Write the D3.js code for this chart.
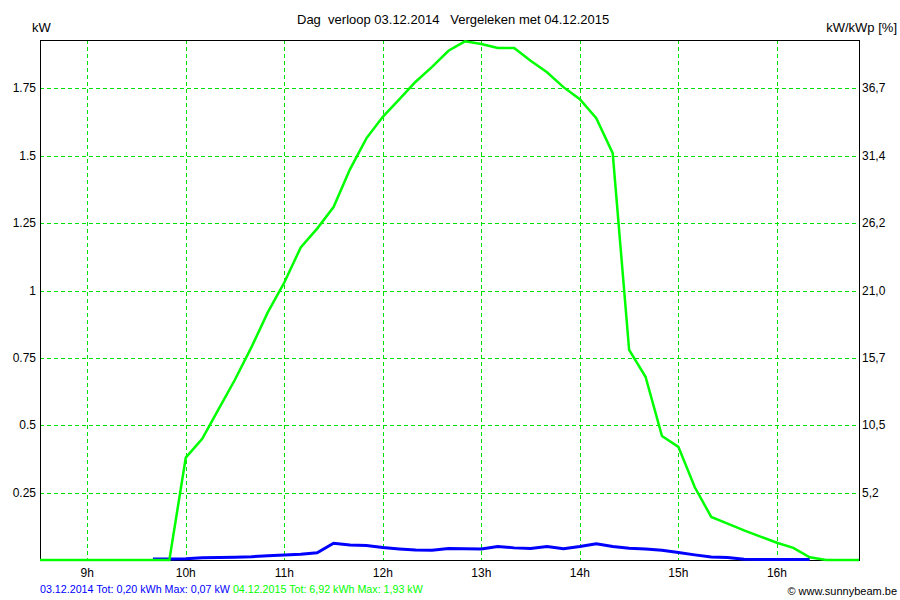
<!DOCTYPE html>
<html>
<head>
<meta charset="utf-8">
<script src="https://cdn.jsdelivr.net/npm/d3@7"></script>
<style>
  body { margin: 0; background: #fff; }
  text { font-family: "Liberation Sans", Arial, sans-serif; font-size: 12px; fill: #000; }
</style>
</head>
<body>
<div id="chart"></div>
<script>
// 10-minute samples, 8:30 .. 16:50
var times = ["8:30","8:40","8:50","9:00","9:10","9:20","9:30","9:40","9:50",
  "10:00","10:10","10:20","10:30","10:40","10:50","11:00","11:10","11:20","11:30","11:40","11:50",
  "12:00","12:10","12:20","12:30","12:40","12:50","13:00","13:10","13:20","13:30","13:40","13:50",
  "14:00","14:10","14:20","14:30","14:40","14:50","15:00","15:10","15:20","15:30","15:40","15:50",
  "16:00","16:10","16:20","16:30","16:40","16:50"];

// 04.12.2015 (green), kW
var green = [0,0,0,0,0,0,0,0,0,
  0.38,0.45,0.56,0.67,0.79,0.92,1.03,1.16,1.23,1.31,1.45,1.565,
  1.645,1.71,1.775,1.83,1.89,1.925,1.915,1.90,1.90,1.853,1.81,1.755,
  1.71,1.64,1.51,0.78,0.68,0.46,0.42,0.27,0.16,0.135,0.11,0.087,
  0.064,0.045,0.01,0,0,0];

// 03.12.2014 (blue), kW
var blue = [null,null,null,null,null,null,null,0.004,0.004,
  0.005,0.008,0.009,0.010,0.012,0.016,0.019,0.021,0.027,0.062,0.056,0.054,
  0.046,0.041,0.037,0.036,0.043,0.042,0.041,0.050,0.045,0.043,0.050,0.042,
  0.050,0.060,0.050,0.044,0.041,0.036,0.028,0.019,0.011,0.009,0.003,0.002,
  0.002,0.002,0.002,null,null,null];

var hourTicks = [9,10,11,12,13,14,15,16];
var kwTicks = [0.25,0.5,0.75,1,1.25,1.5,1.75];
var pctLabels = ["5,2","10,5","15,7","21,0","26,2","31,4","36,7"];

var W = 900, H = 600;
var plotL = 40, plotR = 859, plotT = 40, plotB = 560;

function toHours(s) {
  var p = s.split(":");
  return +p[0] + p[1] / 60;
}

var svg = d3.select("#chart")
  .append("svg")
    .attr("width", W)
    .attr("height", H);

var x = d3.scaleLinear()
  .domain([8.5, 16 + 50 / 60])
  .range([38, plotR]);

var y = d3.scaleLinear()
  .domain([0, 1.93])
  .range([plotB, plotT]);

// grid
svg.append("g")
  .selectAll("line")
  .data(hourTicks)
  .enter()
    .append("line")
    .attr("x1", d => Math.round(x(d)) + 0.5)
    .attr("x2", d => Math.round(x(d)) + 0.5)
    .attr("y1", plotT)
    .attr("y2", plotB)
    .attr("stroke", "#00e000")
    .attr("stroke-dasharray", "4,3");

svg.append("g")
  .selectAll("line")
  .data(kwTicks)
  .enter()
    .append("line")
    .attr("x1", plotL)
    .attr("x2", plotR)
    .attr("y1", d => Math.round(y(d)) + 0.5)
    .attr("y2", d => Math.round(y(d)) + 0.5)
    .attr("stroke", "#00e000")
    .attr("stroke-dasharray", "4,3");

// left axis labels
svg.append("g")
  .selectAll("text")
  .data(kwTicks)
  .enter()
    .append("text")
    .attr("x", 36)
    .attr("y", d => y(d) + 4)
    .style("text-anchor", "end")
    .text(d => String(d));

// right axis labels
svg.append("g")
  .selectAll("text")
  .data(kwTicks)
  .enter()
    .append("text")
    .attr("x", 862)
    .attr("y", d => y(d) + 4)
    .text((d, i) => pctLabels[i]);

// x labels
svg.append("g")
  .selectAll("text")
  .data(hourTicks)
  .enter()
    .append("text")
    .attr("x", d => x(d))
    .attr("y", 577)
    .style("text-anchor", "middle")
    .text(d => d + "h");

// clip for the lines
svg.append("clipPath")
  .attr("id", "plot-clip")
  .append("rect")
    .attr("x", plotL)
    .attr("y", plotT - 2)
    .attr("width", plotR - plotL)
    .attr("height", plotB - plotT + 4);

var line = d3.line()
  .defined(d => d.v !== null)
  .x(d => x(d.t))
  .y(d => y(d.v));

var blueData = times.map((t, i) => ({ t: toHours(t), v: blue[i] }));
var greenData = times.map((t, i) => ({ t: toHours(t), v: green[i] }));

// frame
svg.append("rect")
  .attr("x", plotL + 0.5)
  .attr("y", plotT + 0.5)
  .attr("width", plotR - plotL)
  .attr("height", plotB - plotT)
  .attr("fill", "none")
  .attr("stroke", "#000");

svg.append("path")
  .datum(blueData)
  .attr("clip-path", "url(#plot-clip)")
  .attr("fill", "none")
  .attr("stroke", "#0000ff")
  .attr("stroke-width", 3)
  .attr("d", line);

svg.append("path")
  .datum(greenData)
  .attr("clip-path", "url(#plot-clip)")
  .attr("fill", "none")
  .attr("stroke", "#00ff00")
  .attr("stroke-width", 2.5)
  .attr("d", line);

// titles
svg.append("text")
  .attr("x", 297)
  .attr("y", 24)
  .style("white-space", "pre")
  .style("font-size", "13px")
  .text("Dag  verloop 03.12.2014   Vergeleken met 04.12.2015");

svg.append("text")
  .attr("x", 32)
  .attr("y", 32)
  .style("font-size", "13px")
  .text("kW");

svg.append("text")
  .attr("x", 897)
  .attr("y", 32)
  .style("text-anchor", "end")
  .style("font-size", "13px")
  .text("kW/kWp [%]");

// legend line
var legend = svg.append("text")
  .attr("x", 40)
  .attr("y", 593)
  .style("font-size", "10.7px");

legend.append("tspan")
  .style("fill", "#0000ff")
  .text("03.12.2014 Tot: 0,20 kWh Max: 0,07 kW ");

legend.append("tspan")
  .style("fill", "#00ff00")
  .text("04.12.2015 Tot: 6,92 kWh Max: 1,93 kW");

svg.append("text")
  .attr("x", 897)
  .attr("y", 595)
  .style("text-anchor", "end")
  .style("font-size", "11px")
  .text("\u00a9 www.sunnybeam.be");
</script>
</body>
</html>
